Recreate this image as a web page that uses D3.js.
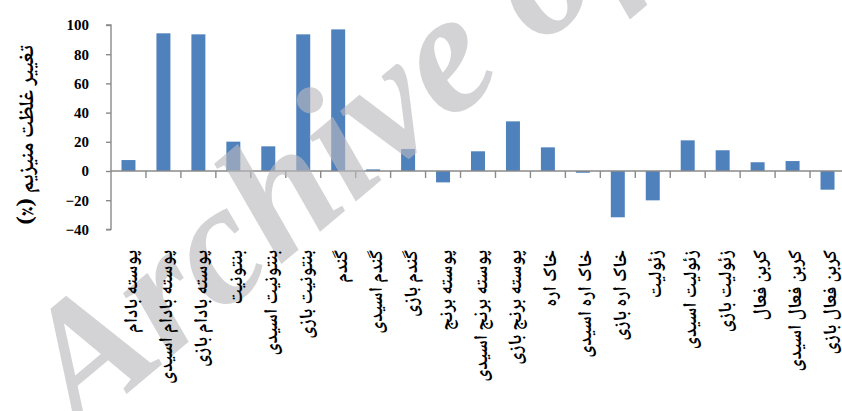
<!DOCTYPE html>
<html>
<head>
<meta charset="utf-8">
<script src="https://cdn.jsdelivr.net/npm/d3@7"></script>
<style>
  html, body { margin: 0; padding: 0; background: #fff; }
  svg { display: block; }
</style>
</head>
<body>
<svg id="chart" width="842" height="411"></svg>
<script>
// Adsorbent names (x categories)
const categories = [
  "پوسته بادام", "پوسته بادام اسیدی", "پوسته بادام بازی",
  "بنتونیت", "بنتونیت اسیدی", "بنتونیت بازی",
  "گندم", "گندم اسیدی", "گندم بازی",
  "پوسته برنج", "پوسته برنج اسیدی", "پوسته برنج بازی",
  "خاک اره", "خاک اره اسیدی", "خاک اره بازی",
  "زئولیت", "زئولیت اسیدی", "زئولیت بازی",
  "کربن فعال", "کربن فعال اسیدی", "کربن فعال بازی"
];
// Change in magnesium concentration (%)
const values = [
  7.5, 94.3, 93.6,
  20.1, 16.9, 93.6,
  97, 1.1, 15.1,
  -7.8, 13.5, 34,
  16.2, -1.2, -31.7,
  -20.1, 21, 14.2,
  6, 6.8, -12.8
];
const yTicks = [-40, -20, 0, 20, 40, 60, 80, 100];
const yTitle = "تغییر غلظت منیزیم (٪)";
const watermark = "Archive of SID";

const svg = d3.select("#chart");
const axisColor = "#8a8a8a";
const persianFont = "'Noto Naskh Arabic','Noto Sans Arabic','DejaVu Sans',sans-serif";

const left = 111, right = 845;
const x = d3.scaleBand().domain(categories).range([left, right])
  .paddingInner(0.6).paddingOuter(0.3);
const step = x.step();
const y = d3.scaleLinear().domain([-40, 100]).range([229.4, 25]);

// bars
svg.append("g").selectAll("rect").data(values).join("rect")
  .attr("x", (d, i) => x(categories[i]))
  .attr("width", x.bandwidth())
  .attr("y", d => y(Math.max(0, d)))
  .attr("height", d => Math.abs(y(d) - y(0)))
  .attr("fill", "#4f81bd");

// y axis
const yAxis = svg.append("g").attr("transform", `translate(${left},0)`)
  .call(d3.axisLeft(y).tickValues(yTicks).tickSize(5).tickPadding(17)
    .tickFormat(d3.format("d")));
yAxis.select(".domain").attr("stroke", axisColor).attr("stroke-width", 1.4)
  .attr("d", `M-5,${y(-40)}H0V${y(100)}H-5`);
yAxis.selectAll(".tick line").attr("stroke", axisColor).attr("stroke-width", 1.4);
yAxis.selectAll(".tick text")
  .attr("font-family", "'Liberation Serif', serif")
  .attr("font-weight", "bold").attr("font-size", 15).attr("fill", "#000");

// x axis along zero with ticks at category boundaries
const xAxisG = svg.append("g").attr("transform", `translate(0,${y(0)})`);
xAxisG.append("line").attr("x1", left).attr("x2", 842)
  .attr("stroke", axisColor).attr("stroke-width", 1.4);
const bounds = categories.slice(1).map(c => x(c) + x.bandwidth() / 2 - step / 2);
xAxisG.selectAll("line.tick").data(bounds).join("line").attr("class", "tick")
  .attr("x1", d => d).attr("x2", d => d).attr("y1", 0).attr("y2", 7)
  .attr("stroke", axisColor).attr("stroke-width", 1.4);

// watermark
svg.append("text")
  .attr("transform", "translate(80,433) rotate(-40)")
  .attr("font-family", "'Liberation Serif', serif")
  .attr("font-style", "italic").attr("font-weight", "bold")
  .attr("font-size", 173)
  .attr("fill", "rgb(185,185,188)").attr("fill-opacity", 0.63)
  .text(watermark);

// category labels, rotated so each reads from the top down
svg.append("g").selectAll("text").data(categories).join("text")
  .attr("transform", d => `translate(${x(d) + x.bandwidth() / 2 + 3},250) rotate(-90)`)
  .attr("direction", "rtl")
  .attr("text-anchor", "start").attr("dominant-baseline", "middle")
  .attr("font-family", persianFont).attr("font-weight", "bold")
  .attr("font-size", 19).attr("fill", "#000")
  .text(d => d);

// y axis title
svg.append("text")
  .attr("transform", "translate(27,135) rotate(-90)")
  .attr("direction", "rtl")
  .attr("text-anchor", "middle").attr("dominant-baseline", "middle")
  .attr("font-family", persianFont).attr("font-weight", "bold")
  .attr("font-size", 21).attr("fill", "#000")
  .text(yTitle);
</script>
</body>
</html>
